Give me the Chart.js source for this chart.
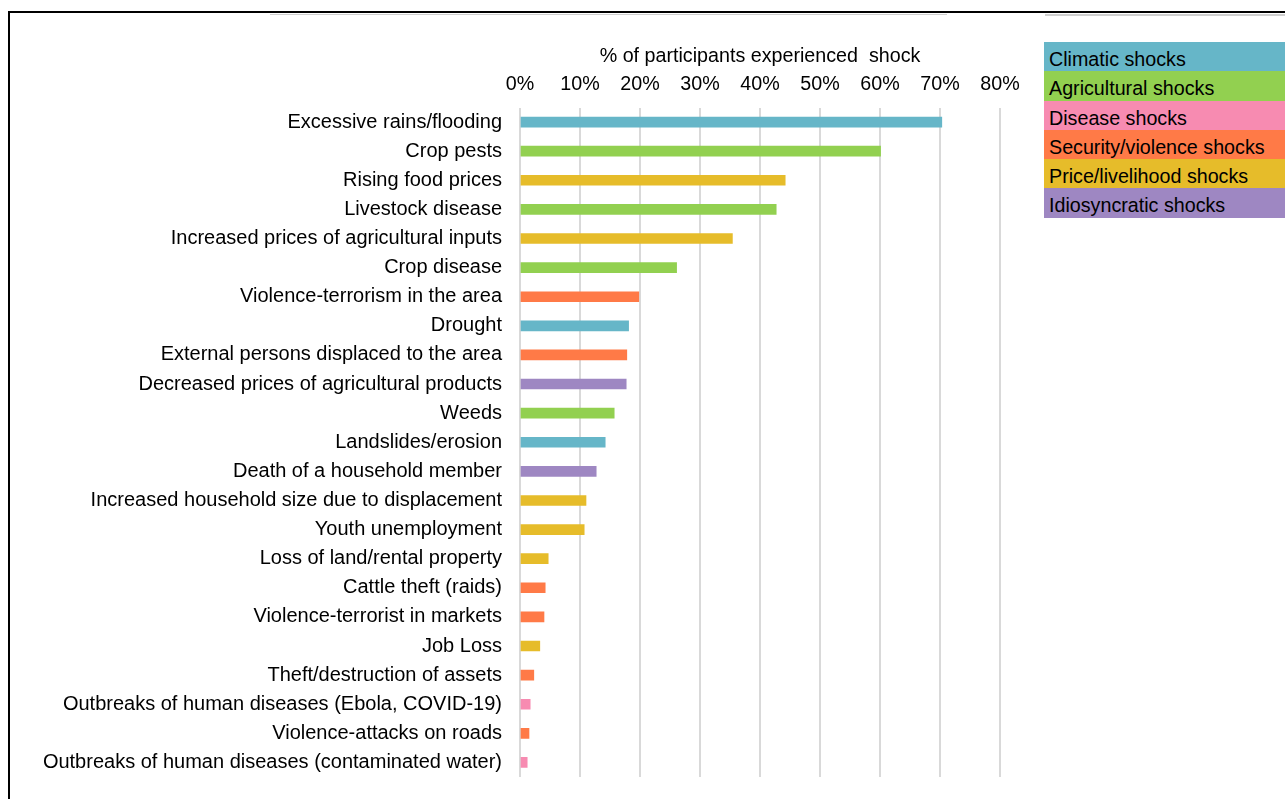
<!DOCTYPE html>
<html>
<head>
<meta charset="utf-8">
<script src="https://cdn.jsdelivr.net/npm/chart.js@4"></script>
<style>
    html, body { margin: 0; padding: 0; background: #fff; }
    #wrap { position: relative; width: 1285px; height: 799px; overflow: hidden; }
    #frame { position: absolute; left: 8px; top: 11px; right: -4px; bottom: -4px;
             border-top: 2px solid #000; border-left: 2px solid #000; pointer-events: none; }
    .ghost { position: absolute; height: 1px; background: #cfcfcf; top: 14px; }
    #legend { position: absolute; left: 1044px; top: 42px; width: 241px; }
    #legend div { height: 29.3px; padding-left: 5px; padding-top: 3px; box-sizing: border-box;
                  font: 19.7px "Liberation Sans", Arial, sans-serif; line-height: 29.3px;
                  color: #000; white-space: nowrap; }
</style>
</head>
<body>
<div id="wrap">
    <canvas id="chart"></canvas>
    <div class="ghost" style="left:270px; width:677px;"></div>
    <div class="ghost" style="left:1045px; width:240px; height:2px;"></div>
    <div id="frame"></div>
    <div id="legend"></div>
</div>
<script>
    // ── Data ─────────────────────────────────────────────────────────────────
    var groups = ['Climatic shocks', 'Agricultural shocks', 'Disease shocks',
                  'Security/violence shocks', 'Price/livelihood shocks', 'Idiosyncratic shocks'];
    var groupColors = ['#66b6c8', '#92d050', '#f78bb1', '#ff7a47', '#e6bc2a', '#9e87c2'];

    var shocks = [
        'Excessive rains/flooding',
        'Crop pests',
        'Rising food prices',
        'Livestock disease',
        'Increased prices of agricultural inputs',
        'Crop disease',
        'Violence-terrorism in the area',
        'Drought',
        'External persons displaced to the area',
        'Decreased prices of agricultural products',
        'Weeds',
        'Landslides/erosion',
        'Death of a household member',
        'Increased household size due to displacement',
        'Youth unemployment',
        'Loss of land/rental property',
        'Cattle theft (raids)',
        'Violence-terrorist in markets',
        'Job Loss',
        'Theft/destruction of assets',
        'Outbreaks of human diseases (Ebola, COVID-19)',
        'Violence-attacks on roads',
        'Outbreaks of human diseases (contaminated water)'
    ];
    var shockPct = [70.3, 60.1, 44.2, 42.7, 35.4, 26.1, 19.8, 18.1, 17.8, 17.7, 15.7, 14.2,
                    12.7, 11.0, 10.7, 4.7, 4.2, 4.0, 3.3, 2.3, 1.7, 1.5, 1.2];
    // index into groups
    var shockGroup = [0, 1, 4, 1, 4, 1, 3, 0, 3, 5, 1, 0, 5, 4, 4, 4, 3, 3, 4, 3, 2, 3, 2];

    var xTicks = [0, 10, 20, 30, 40, 50, 60, 70, 80];

    var FONT = '"Liberation Sans", Arial, sans-serif';

    // ── Legend (html) ───────────────────────────────────────────────────────
    var legend = document.getElementById('legend');
    groups.forEach(function (g, i) {
        var row = document.createElement('div');
        row.style.background = groupColors[i];
        row.textContent = g;
        legend.appendChild(row);
    });

    // ── Chart ───────────────────────────────────────────────────────────────
    var canvas = document.getElementById('chart');
    canvas.width = 1285;
    canvas.height = 799;

    new Chart(canvas, {
        type: 'bar',
        data: {
            labels: shocks,
            datasets: [{
                data: shockPct,
                backgroundColor: shockGroup.map(function (g) { return groupColors[g]; }),
                barThickness: 10,
                borderWidth: 0
            }]
        },
        options: {
            indexAxis: 'y',
            responsive: false,
            animation: false,
            layout: { padding: { top: 0, right: 285, bottom: 16, left: 0 } },
            plugins: { legend: { display: false }, tooltip: { enabled: false } },
            scales: {
                x: {
                    position: 'top',
                    min: 0,
                    max: 80,
                    afterBuildTicks: function (axis) {
                        axis.ticks = xTicks.map(function (v) { return { value: v }; });
                    },
                    afterFit: function (axis) { axis.height = 107.5; },
                    grid: { color: '#d9d9d9', lineWidth: 2, drawTicks: false },
                    border: { display: false },
                    ticks: {
                        padding: 11,
                        color: '#000',
                        font: { family: FONT, size: 19.7 },
                        callback: function (v) { return v + '%'; }
                    },
                    title: {
                        display: true,
                        text: '% of participants experienced  shock',
                        color: '#000',
                        font: { family: FONT, size: 19.7 },
                        padding: { top: 45, bottom: 0 }
                    }
                },
                y: {
                    afterFit: function (axis) { axis.width = 520; },
                    grid: { display: false },
                    border: { display: false },
                    ticks: {
                        padding: 10,
                        autoSkip: false,
                        color: '#000',
                        font: { family: FONT, size: 20 }
                    }
                }
            }
        }
    });
</script>
</body>
</html>
